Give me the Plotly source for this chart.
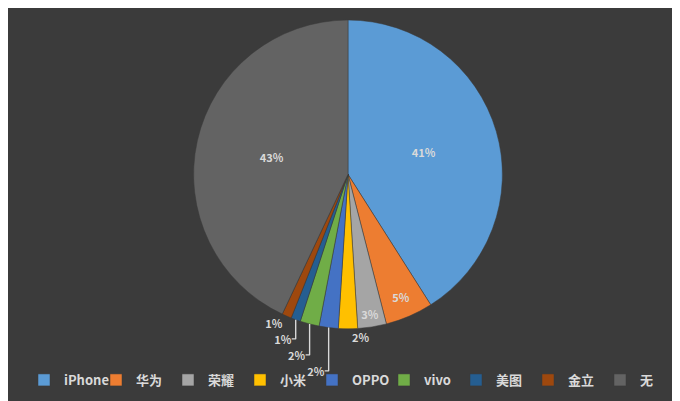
import plotly.graph_objects as go

labels = ["iPhone", "华为", "荣耀", "小米", "OPPO", "vivo", "美图", "金立", "无"]
values = [41, 5, 3, 2, 2, 2, 1, 1, 43]
colors = ["#5B9BD5", "#ED7D31", "#A5A5A5", "#FFC000", "#4472C4", "#70AD47", "#255E91", "#9E480E", "#636363"]
positions = ["inside", "inside", "inside", "outside", "outside", "outside", "outside", "outside", "inside"]

fig = go.Figure(go.Pie(
    labels=labels, values=values, sort=False, direction="clockwise", rotation=0,
    marker=dict(colors=colors, line=dict(color="#3a3a3a", width=0.5)),
    texttemplate="<b>%{value}%</b>", textposition=positions, insidetextorientation="horizontal",
    textfont=dict(family="Noto Sans CJK SC", size=11, color="#D9D9D9"),
    domain=dict(x=[0.2, 0.8], y=[0.2, 0.97]),
))
fig.update_layout(
    width=680, height=401, margin=dict(l=0, r=0, t=0, b=0),
    paper_bgcolor="#3b3b3b",
    legend=dict(orientation="h", x=0.5, xanchor="center", y=0.035, yanchor="bottom",
                font=dict(family="Noto Sans CJK SC", size=13, color="#D9D9D9", weight="bold"),
                itemwidth=30, traceorder="normal", entrywidth=27, entrywidthmode="pixels",
                bgcolor="rgba(0,0,0,0)"),
)
fig.write_html("out.html")
